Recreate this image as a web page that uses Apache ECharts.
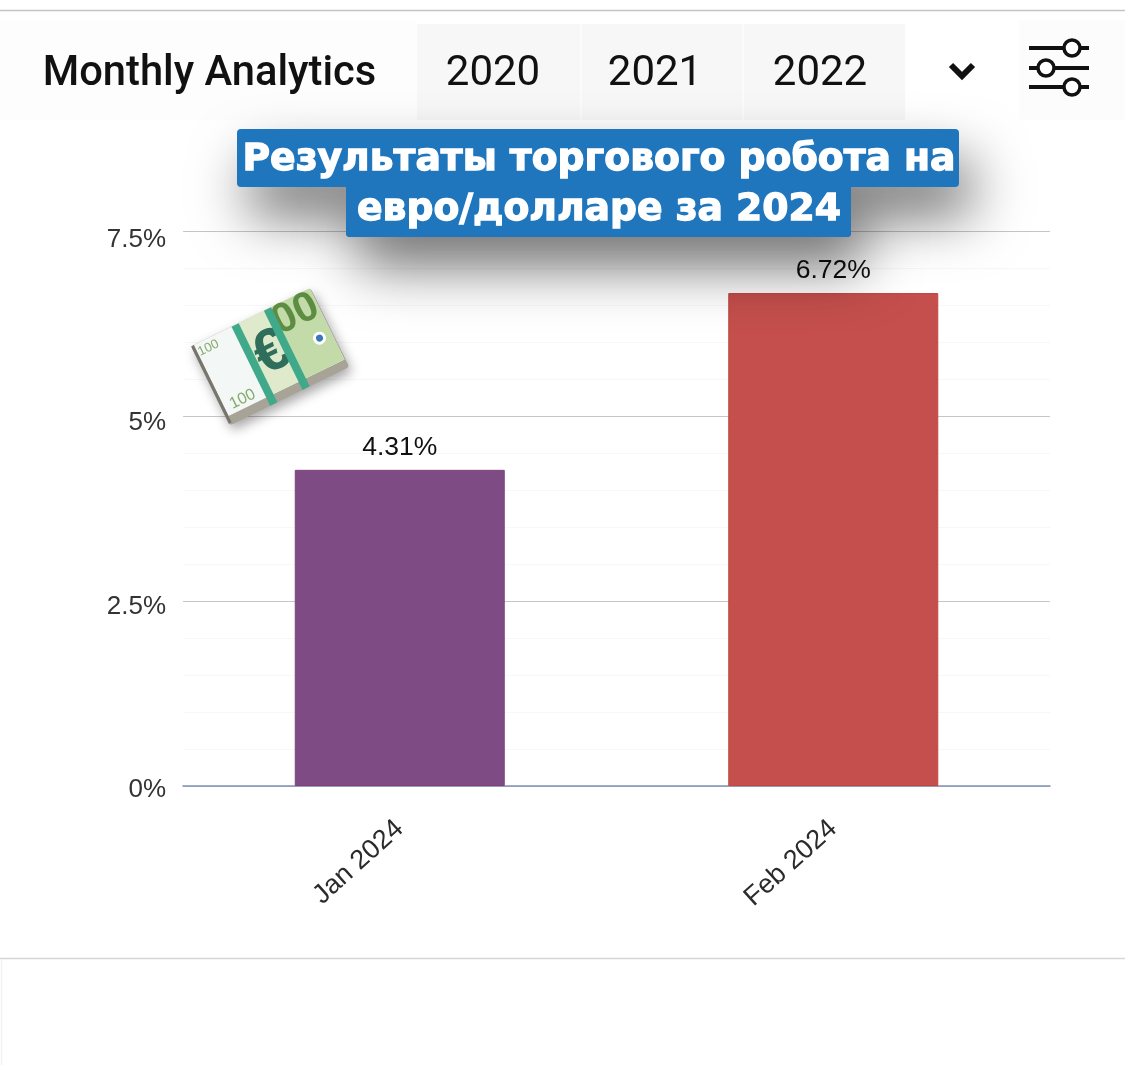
<!DOCTYPE html>
<html><head><meta charset="utf-8">
<style>html,body{margin:0;padding:0;background:#fff}#c{width:1125px;height:1065px}</style>
<script src="https://cdn.jsdelivr.net/npm/echarts@6/dist/echarts.min.js"></script>
</head><body><div id="c"></div>
<script>
const categories = ['Jan 2024', 'Feb 2024'];
const values = [4.31, 6.72];
const barColors = ['#7e4b85', '#c44f4c'];
const barEdges = ['#80427f', '#bf4541'];
const yTicks = [0, 2.5, 5, 7.5];
const years = ['2020', '2021', '2022'];
const yearX = [493, 655, 820];
const headerTitle = 'Monthly Analytics';
const bannerLines = ['Результаты торгового робота на', 'евро/долларе за 2024'];
const AXIS_MAX = 7.566, GRID_MAX = 7.5;

const chart = echarts.init(document.getElementById('c'), null, {renderer: 'canvas'});
const sans = '"Liberation Sans", Arial, sans-serif';
const rect = (x, y, w, h, fill, extra) => Object.assign({type: 'rect', shape: {x, y, width: w, height: h}, style: {fill}, silent: true}, extra || {});
const txt = (x, y, text, font, fill, extra) => ({type: 'text', x, y, silent: true, style: Object.assign({text, fill, align: 'center', verticalAlign: 'middle',
    font}, extra || {})});
const line = (x1, y1, x2, y2, stroke, w) => ({type: 'line', shape: {x1, y1, x2, y2}, silent: true, style: {stroke, lineWidth: w, lineCap: 'butt'}});

const header = [
  line(0, 10.5, 1125, 10.5, '#c4c4c4', 1.5),
  line(0, 958.5, 1125, 958.5, '#d6d6d6', 1.5),
  line(1.5, 959, 1.5, 1065, '#f2f2f2', 1.5),
  rect(0, 20, 417, 100, '#fdfdfd'),
  rect(417, 24, 488, 96, '#f7f7f7'),
  rect(580, 24, 2, 96, '#fbfbfb'),
  rect(742, 24, 2, 96, '#fbfbfb'),
  rect(1019, 20, 106, 100, '#fcfcfc'),
  txt(209.5, 75, headerTitle, '500 41.7px Roboto, sans-serif', '#111'),
  ...years.map((y, i) => txt(yearX[i], 74, y, '400 42px Roboto, sans-serif', '#111')),
  {type: 'polyline', shape: {points: [[951, 65], [962, 76], [973, 65]]}, silent: true, style: {stroke: '#111', fill: 'none', lineWidth: 6}},
  line(1029, 48, 1089, 48, '#111', 4), line(1029, 68, 1089, 68, '#111', 4), line(1029, 87, 1089, 87, '#111', 4),
  ...[[1072, 48], [1046, 68], [1072, 87]].map(([cx, cy]) => ({type: 'circle', shape: {cx, cy, r: 8}, silent: true, style: {fill: '#fff', stroke: '#111', lineWidth: 3.5}}))
];

const shadow = {shadowBlur: 55, shadowColor: 'rgba(0,0,0,0.55)', shadowOffsetX: 12, shadowOffsetY: 30};
const heavy = {stroke: '#fff', lineWidth: 1.3};
const banner = [
  {type: 'rect', shape: {x: 346, y: 180, width: 505, height: 57, r: 4}, silent: true, style: Object.assign({fill: '#1f76bd'}, shadow), z: 10},
  {type: 'rect', shape: {x: 237, y: 129, width: 722, height: 58, r: 4}, silent: true, style: Object.assign({fill: '#1f76bd'}, shadow), z: 10},
  {type: 'rect', shape: {x: 346, y: 180, width: 505, height: 57, r: 4}, silent: true, style: {fill: '#1f76bd'}, z: 11},
  Object.assign(txt(599, 160, bannerLines[0], '700 37.7px "DejaVu Sans", sans-serif', '#fff', heavy), {z: 12}),
  Object.assign(txt(599, 210, bannerLines[1], '700 37.7px "DejaVu Sans", sans-serif', '#fff', heavy), {z: 12})
];

const moneyKids = [
  {type: 'rect', shape: {x: -1, y: 0, width: 133, height: 88, r: 3}, style: {fill: '#a7a397', shadowBlur: 12, shadowColor: 'rgba(0,0,0,0.35)', shadowOffsetX: 3, shadowOffsetY: 5}},
  {type: 'rect', shape: {x: 2, y: 0, width: 129, height: 79}, style: {fill: '#f3f7f6'}},
  {type: 'rect', shape: {x: 48, y: 0, width: 83, height: 79}, style: {fill: '#dfe9cb'}},
  {type: 'rect', shape: {x: 88, y: 0, width: 43, height: 79}, style: {fill: '#c3dba8'}},
  {type: 'text', x: 107, y: 17, style: {text: '00', fill: '#5d8d42', font: '700 42px "Liberation Sans"', align: 'center', verticalAlign: 'middle'}},
  {type: 'text', x: 69, y: 42, style: {text: '€', fill: '#2f6e5b', font: '700 60px "Liberation Sans"', align: 'center', verticalAlign: 'middle'}},
  {type: 'text', x: 14, y: 9, style: {text: '100', fill: '#86a96c', font: '400 13px "Liberation Sans"', align: 'center', verticalAlign: 'middle'}},
  {type: 'text', x: 22, y: 70, style: {text: '100', fill: '#86a96c', font: '400 16px "Liberation Sans"', align: 'center', verticalAlign: 'middle'}},
  {type: 'circle', shape: {cx: 118, cy: 49, r: 5}, style: {fill: '#3c78b8', stroke: '#fff', lineWidth: 3}},
  {type: 'rect', shape: {x: 44, y: 0, width: 8, height: 88}, style: {fill: '#3fa98a'}},
  {type: 'rect', shape: {x: 80, y: 0, width: 8, height: 88}, style: {fill: '#3fa98a'}},
  {type: 'rect', shape: {x: -1, y: 0, width: 3, height: 86}, style: {fill: '#77756d'}}
];
const money = {type: 'group', x: 192, y: 346, rotation: 0.455, silent: true,
  children: moneyKids.map(k => Object.assign(k, {z: 9, zlevel: 0, silent: true}))};

chart.setOption({
  animation: false,
  backgroundColor: '#fff',
  grid: {left: 183, right: 75, top: 231, bottom: 279},
  xAxis: {
    type: 'category', data: categories,
    axisLine: {lineStyle: {color: '#8292b0', width: 1.5}},
    axisTick: {show: false},
    axisLabel: {rotate: 42, margin: 39, fontFamily: sans, fontSize: 27, color: '#2b2b2b'}
  },
  yAxis: [{
    type: 'value', min: 0, max: AXIS_MAX,
    axisLine: {show: false}, axisTick: {show: false}, splitLine: {show: false},
    axisLabel: {customValues: yTicks, formatter: v => '{t|' + v + '%}', margin: 17,
      rich: {t: {fontFamily: sans, fontSize: 26, color: '#333', padding: [8, 0, 0, 0]}}}
  }, {
    type: 'value', min: 0, max: GRID_MAX, interval: 2.5, position: 'left',
    axisLine: {show: false}, axisTick: {show: false}, axisLabel: {show: false},
    splitLine: {show: true, lineStyle: {color: '#c9c4ca', width: 1.2}},
    minorTick: {show: false, splitNumber: 5},
    minorSplitLine: {show: true, lineStyle: {color: '#f7f7f7', width: 1}}
  }],
  series: [{
    type: 'bar', yAxisIndex: 0, barWidth: 210,
    data: values.map((v, i) => ({value: v, itemStyle: {color: barColors[i], borderColor: barEdges[i], borderWidth: 1}})),
    label: {show: true, position: 'top', distance: 9, formatter: p => p.value.toFixed(2) + '%', fontFamily: sans, fontSize: 26.5, color: '#111'}
  }],
  graphic: {elements: [...header, money, ...banner]}
});
</script></body></html>
